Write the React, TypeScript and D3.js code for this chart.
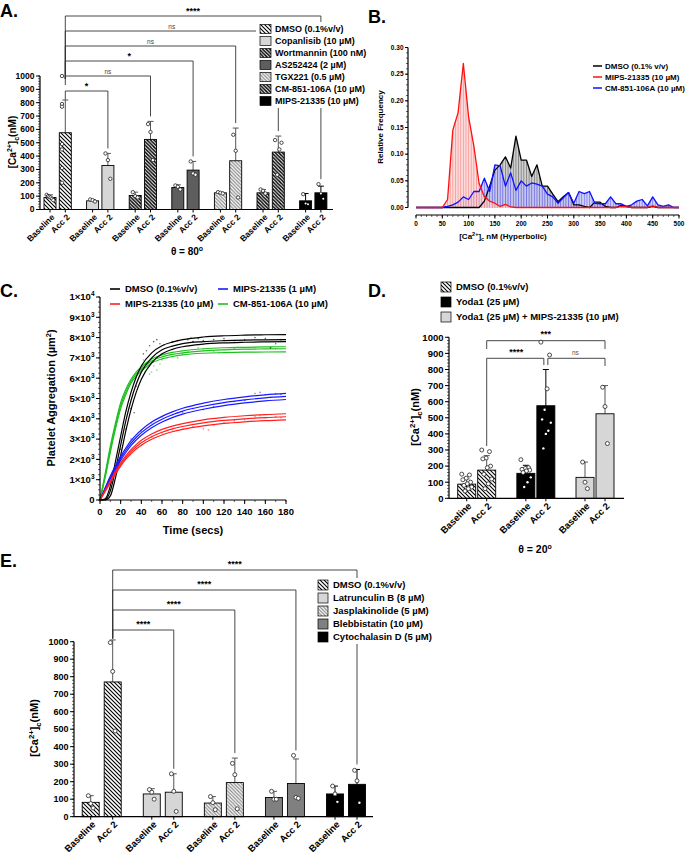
import React from 'react';
import * as d3 from 'd3';

const F = "'Liberation Sans', Arial, Helvetica, sans-serif";

// ---------------- Panel A data ----------------
const aGroups = ["DMSO (0.1%v/v)", "Copanlisib (10 µM)", "Wortmannin (100 nM)", "AS252424 (2 µM)", "TGX221 (0.5 µM)", "CM-851-106A (10 µM)", "MIPS-21335 (10 µM)"];
const aFills = ["hatch", "light", "hatchDense", "dark", "hatchGray", "hatchDense", "black"];
const aBaseMean = [90, 65, 105, 165, 125, 125, 65];
const aBaseErr = [110, 75, 130, 185, 130, 150, 120];
const aBasePts = [[110, 100, 95, 90, 80, 70], [75, 70, 60], [130, 100, 90], [180, 170, 150], [130, 125, 120], [150, 140, 120], [115, 45, 40]];
const aAccMean = [575, 330, 525, 295, 365, 430, 125];
const aAccErr = [820, 420, 660, 360, 610, 550, 175];
const aAccPts = [[1000, 790, 770, 490, 450, 310, 200], [420, 370, 230], [640, 580, 370], [360, 270, 260], [560, 440, 90], [520, 500, 450, 260], [190, 120, 80]];
const aSigLabels = ["*", "ns", "*", "ns", "ns", "****"];
const barTicks = [0, 100, 200, 300, 400, 500, 600, 700, 800, 900, 1000];
const conditions = ["Baseline", "Acc 2"];

// ---------------- Panel B data ----------------
const bBins = [0, 10, 20, 30, 40, 50, 60, 70, 80, 90, 100, 110, 120, 130, 140, 150, 160, 170, 180, 190, 200, 210, 220, 230, 240, 250, 260, 270, 280, 290, 300, 310, 320, 330, 340, 350, 360, 370, 380, 390, 400, 410, 420, 430, 440, 450, 460, 470, 480, 490, 500];
const bDMSO = [0, 0, 0, 0, 0, 0, 0, 0, 0, 0, 0, 0, 0, 0.012, 0.04, 0.07, 0.08, 0.095, 0.074, 0.134, 0.089, 0.089, 0.058, 0.08, 0.04, 0.04, 0.025, 0.011, 0.02, 0.028, 0.005, 0.005, 0.002, 0, 0.01, 0.01, 0.002, 0, 0, 0.004, 0.002, 0, 0, 0, 0, 0.002, 0, 0, 0, 0, 0];
const bMIPS = [0, 0, 0, 0, 0, 0, 0.015, 0.145, 0.178, 0.27, 0.17, 0.115, 0.045, 0.02, 0.012, 0.008, 0.002, 0.006, 0.001, 0, 0, 0, 0, 0, 0, 0, 0, 0, 0, 0, 0, 0, 0, 0, 0, 0, 0, 0, 0, 0.002, 0.001, 0, 0, 0, 0, 0.003, 0, 0, 0, 0, 0];
const bCM = [0, 0, 0, 0, 0, 0, 0.002, 0.005, 0.01, 0.02, 0.015, 0.03, 0.03, 0.055, 0.03, 0.08, 0.078, 0.04, 0.065, 0.032, 0.05, 0.04, 0.046, 0.044, 0.04, 0.025, 0.02, 0.008, 0.018, 0.028, 0.008, 0.03, 0.026, 0.03, 0.008, 0.007, 0.007, 0.02, 0.007, 0.007, 0.002, 0.005, 0.012, 0.015, 0.003, 0.02, 0.005, 0.002, 0.005, 0, 0];
const bLegend = ["DMSO (0.1% v/v)", "MIPS-21335 (10 µM)", "CM-851-106A (10 µM)"];
const bYTicks = [0, 0.05, 0.1, 0.15, 0.2, 0.25, 0.3];
const bXTicks = [0, 50, 100, 150, 200, 250, 300, 350, 400, 450, 500];

// ---------------- Panel C data ----------------
const cTimes = [0, 5, 10, 15, 20, 25, 30, 35, 40, 50, 60, 70, 80, 100, 120, 140, 160, 180];
const cBlack = [
  [0, 60, 700, 1900, 3150, 4350, 5300, 6050, 6600, 7250, 7600, 7780, 7900, 8030, 8090, 8120, 8140, 8150],
  [0, 20, 450, 1500, 2700, 3900, 4900, 5700, 6300, 7000, 7400, 7580, 7700, 7800, 7850, 7880, 7890, 7900],
  [0, 0, 200, 1100, 2200, 3400, 4450, 5300, 5950, 6750, 7200, 7420, 7550, 7680, 7740, 7770, 7790, 7800],
];
const cGreen = [
  [0, 1300, 2650, 3800, 4800, 5450, 5950, 6300, 6550, 6950, 7150, 7270, 7350, 7450, 7500, 7520, 7540, 7550],
  [0, 1200, 2500, 3650, 4650, 5320, 5850, 6200, 6450, 6850, 7050, 7170, 7250, 7350, 7400, 7430, 7440, 7450],
  [0, 1100, 2350, 3500, 4500, 5200, 5750, 6100, 6350, 6750, 6950, 7070, 7150, 7230, 7260, 7280, 7290, 7300],
];
const cBlue = [
  [0, 600, 1180, 1700, 2150, 2560, 2920, 3210, 3450, 3840, 4120, 4340, 4520, 4770, 4950, 5080, 5180, 5250],
  [0, 550, 1100, 1600, 2050, 2450, 2800, 3080, 3320, 3700, 3980, 4200, 4380, 4620, 4800, 4930, 5030, 5100],
  [0, 500, 1020, 1500, 1950, 2340, 2680, 2950, 3190, 3560, 3840, 4060, 4230, 4470, 4650, 4780, 4880, 4950],
];
const cRed = [
  [0, 480, 950, 1420, 1830, 2190, 2480, 2730, 2940, 3250, 3480, 3640, 3760, 3950, 4070, 4150, 4210, 4250],
  [0, 450, 900, 1350, 1750, 2100, 2380, 2620, 2820, 3120, 3340, 3500, 3620, 3800, 3920, 4000, 4060, 4100],
  [0, 420, 850, 1280, 1670, 2010, 2280, 2510, 2700, 2990, 3200, 3360, 3480, 3650, 3770, 3850, 3910, 3950],
];
const cBlackDots = [[10, 500], [15, 1500], [20, 2500], [25, 3500], [30, 4500], [33, 4300], [35, 5600], [42, 7200], [45, 7350], [48, 7600], [52, 7800], [55, 7900], [58, 7700], [62, 7650], [70, 7800], [75, 7850], [85, 7900], [90, 7800], [95, 7950], [100, 7850], [110, 7900], [120, 7950], [130, 7850], [140, 7900], [150, 8000], [160, 7950], [165, 7500], [170, 7700], [175, 7900]];
const cGreenDots = [[10, 2300], [20, 4700], [30, 5800], [40, 6400], [42, 6900], [44, 6700], [46, 6500], [48, 6200], [50, 6300], [52, 6600], [55, 6400], [58, 6700], [60, 6900], [65, 7000], [70, 7050], [75, 7000], [80, 7200], [85, 7300], [88, 8000], [90, 7800], [95, 7500], [100, 7400], [110, 7300], [115, 7250], [120, 7400], [130, 7450], [150, 7500], [165, 7500], [170, 7450]];
const cBlueDots = [[20, 2200], [30, 3000], [40, 3400], [50, 3800], [60, 4100], [70, 4200], [75, 4300], [80, 4300], [90, 4500], [100, 4450], [110, 4600], [120, 4800], [130, 4850], [140, 4900], [150, 5250], [155, 5300], [160, 5200], [165, 5050], [170, 5250], [175, 5200]];
const cRedDots = [[30, 2400], [40, 2700], [50, 3100], [60, 3300], [70, 3450], [80, 3500], [90, 3600], [100, 3500], [105, 3450], [110, 3700], [120, 3800], [130, 3900], [140, 3950], [150, 4100], [155, 4150], [160, 4050], [170, 4100], [175, 4050]];
const cYTicks = [0, 1000, 2000, 3000, 4000, 5000, 6000, 7000, 8000, 9000, 10000];
const cXTicks = [0, 20, 40, 60, 80, 100, 120, 140, 160, 180];

// ---------------- Panel D data ----------------
const dGroups = ["DMSO (0.1%v/v)", "Yoda1 (25 µM)", "Yoda1 (25 µM) + MIPS-21335 (10 µM)"];
const dFills = ["hatch", "black", "light"];
const dBaseMean = [88, 155, 130];
const dBaseErr = [120, 205, 225];
const dBasePts = [[150, 145, 125, 115, 100, 90, 80, 70, 60, 45], [240, 190, 185, 180, 175, 170, 160, 130, 100, 70], [225, 100, 60]];
const dAccMean = [175, 575, 525];
const dAccErr = [265, 800, 700];
const dAccPts = [[300, 290, 250, 245, 200, 190, 150, 120, 90, 60], [970, 890, 680, 550, 490, 470, 420, 400, 310], [690, 570, 340]];

// ---------------- Panel E data ----------------
const eGroups = ["DMSO (0.1%v/v)", "Latrunculin B (8 µM)", "Jasplakinolide (5 µM)", "Blebbistatin (10 µM)", "Cytochalasin D (5 µM)"];
const eFills = ["hatch", "light", "hatchGray", "mid", "black"];
const eBaseMean = [82, 130, 78, 110, 130];
const eBaseErr = [120, 160, 115, 145, 175];
const eBasePts = [[120, 75, 50], [155, 140, 100], [115, 80, 40], [145, 100, 100], [175, 130, 85]];
const eAccMean = [770, 140, 195, 190, 185];
const eAccErr = [1010, 245, 335, 330, 270];
const eAccPts = [[995, 830, 490], [245, 145, 30], [305, 240, 45], [350, 110, 105], [265, 205, 80]];
const eSigLabels = ["****", "****", "****", "****"];

// ---------------- helpers ----------------
const fillOf = (k: string) => ({
  hatch: 'url(#hatchB)', hatchDense: 'url(#hatchBD)', hatchGray: 'url(#hatchG)',
  light: '#d6d6d6', mid: '#808080', dark: '#5e5e5e', black: '#000',
} as any)[k];

function CaTitle({ x, y, fs }: any) {
  return (
    <text transform={`translate(${x},${y}) rotate(-90)`} textAnchor="middle" fontSize={fs} fontWeight="bold">
      [Ca<tspan dy={-fs * 0.4} fontSize={fs * 0.7}>2+</tspan><tspan dy={fs * 0.4}>]</tspan>
      <tspan dy={fs * 0.3} fontSize={fs * 0.7}>c</tspan><tspan dy={-fs * 0.3}>(nM)</tspan>
    </text>
  );
}

function YAxis({ scale, x, ticks, minor, fs, fmt, len = 4 }: any) {
  const [d0, d1] = scale.domain();
  const minors = minor ? d3.range(d0, d1 + 1e-9, minor) : [];
  return (
    <g>
      <line x1={x} x2={x} y1={scale(d0)} y2={scale(d1)} stroke="#000" strokeWidth={1.2} />
      {minors.map((v: number, i: number) => <line key={'m' + i} x1={x - 2} x2={x} y1={scale(v)} y2={scale(v)} stroke="#000" strokeWidth={0.6} />)}
      {ticks.map((v: number, i: number) => (
        <g key={i}>
          <line x1={x - len} x2={x} y1={scale(v)} y2={scale(v)} stroke="#000" strokeWidth={1} />
          <text x={x - len - 1.5} y={scale(v)} dy="0.35em" textAnchor="end" fontSize={fs} fontWeight="bold">{fmt ? fmt(v) : v}</text>
        </g>
      ))}
    </g>
  );
}

function BarSet({ y, xBase, accOff, barW, baseMean, baseErr, basePts, accMean, accErr, accPts, fills, axisX0, axisX1, fs, pr }: any) {
  const y0 = y(0);
  const items: any[] = [];
  baseMean.forEach((_: any, i: number) => {
    [0, 1].forEach((c) => {
      const cx = xBase(i) + (c ? accOff : 0);
      const m = c ? accMean[i] : baseMean[i];
      const e = c ? accErr[i] : baseErr[i];
      const pts = c ? accPts[i] : basePts[i];
      const f = fills[i];
      const dark = f === 'black';
      items.push(
        <g key={i + '-' + c}>
          <line x1={cx} x2={cx} y1={y(m)} y2={y(e)} stroke={dark ? '#000' : '#555'} strokeWidth={1} />
          <line x1={cx - 3} x2={cx + 3} y1={y(e)} y2={y(e)} stroke={dark ? '#000' : '#555'} strokeWidth={1} />
          <rect x={cx - barW / 2} y={y(m)} width={barW} height={y0 - y(m)} fill={fillOf(f)} stroke="#000" strokeWidth={0.9} />
          {pts.map((v: number, j: number) => {
            const n = pts.length;
            const w = Math.min(barW * 0.55, n * 1.6);
            const dx = n === 1 ? 0 : -w / 2 + (w * ((j * 7) % n)) / (n - 1);
            const inside = dark && v < m;
            return inside
              ? <circle key={j} cx={cx + dx} cy={y(v)} r={pr * 0.6} fill="#fff" />
              : <circle key={j} cx={cx + dx} cy={y(v)} r={pr} fill="#fff" stroke="#222" strokeWidth={0.8} />;
          })}
          <line x1={cx} x2={cx} y1={y0} y2={y0 + 3} stroke="#000" strokeWidth={1} />
          <text transform={`translate(${cx + 3},${y0 + 6}) rotate(-45)`} textAnchor="end" dy="0.35em" fontSize={fs} fontWeight="bold">{conditions[c]}</text>
        </g>
      );
    });
  });
  return (
    <g>
      {items}
      <line x1={axisX0} x2={axisX1} y1={y0} y2={y0} stroke="#000" strokeWidth={1.2} />
    </g>
  );
}

function LegendBox({ x, y, f, w = 10, h = 9 }: any) {
  return <rect x={x} y={y - h / 2} width={w} height={h} fill={fillOf(f)} stroke="#000" strokeWidth={0.7} />;
}

// ---------------- Panels ----------------
function PanelA() {
  const y = d3.scaleLinear().domain([0, 1000]).range([209.5, 76]);
  const xg = d3.scaleLinear().domain([0, 6]).range([50, 305.6]);
  const off = 15.3;
  const dmsoTop = y(d3.max(aAccPts[0]) as number);
  return (
    <g>
      <text x={0} y={17} fontSize={18} fontWeight="bold">A.</text>
      {aSigLabels.map((lab, k) => {
        const yb = 91 - 15 * k;
        const x1 = xg(0) + off, x2 = xg(k + 1) + off;
        const top = Math.max(aAccErr[k + 1], d3.max(aAccPts[k + 1]) as number);
        const yEnd = y(top) - 5;
        const leftEnd = Math.max(yb + 9, dmsoTop + 3);
        return (
          <g key={k}>
            <path d={`M${x1},${leftEnd}V${yb}H${x2}V${yEnd}`} fill="none" stroke="#333" strokeWidth={0.9} />
            <text x={(x1 + x2) / 2} y={yb - 2.5} textAnchor="middle" fontSize={lab === 'ns' ? 6.5 : 9} fontWeight={lab === 'ns' ? 'normal' : 'bold'} fill={lab === 'ns' ? '#444' : '#000'}>{lab}</text>
          </g>
        );
      })}
      <YAxis scale={y} x={40} ticks={barTicks} minor={20} fs={8.5} />
      <BarSet y={y} xBase={xg} accOff={off} barW={12} baseMean={aBaseMean} baseErr={aBaseErr} basePts={aBasePts}
        accMean={aAccMean} accErr={aAccErr} accPts={aAccPts} fills={aFills} axisX0={40} axisX1={333} fs={8.5} pr={1.7} />
      <CaTitle x={16} y={142} fs={10} />
      <text x={187} y={255} textAnchor="middle" fontSize={10} fontWeight="bold">θ = 80<tspan dy={-4} fontSize={7}>o</tspan></text>
      <rect x={256} y={22} width={100} height={86} fill="#fff" />
      {aGroups.map((g, i) => (
        <g key={i}>
          <LegendBox x={260} y={29 + 12 * i} f={aFills[i]} w={11} h={9} />
          <text x={275} y={29 + 12 * i} dy="0.35em" fontSize={9} fontWeight="bold">{g}</text>
        </g>
      ))}
    </g>
  );
}

function PanelB() {
  const x = d3.scaleLinear().domain([0, 500]).range([416, 679]);
  const y = d3.scaleLinear().domain([0, 0.3]).range([207.5, 47.5]);
  const area = (vals: number[]) => d3.area<number>().x((_, i) => x(bBins[i])).y0(y(0)).y1((v) => y(v))(vals) as string;
  const line = (vals: number[]) => d3.line<number>().x((_, i) => x(bBins[i])).y((v) => y(v))(vals) as string;
  const series = [
    { v: bDMSO, c: '#000', p: 'url(#vsK)' },
    { v: bCM, c: '#1010ff', p: 'url(#vsB)' },
    { v: bMIPS, c: '#ff1010', p: 'url(#vsR)' },
  ];
  return (
    <g>
      <text x={368} y={23} fontSize={18} fontWeight="bold">B.</text>
      {series.map((s, i) => <path key={'a' + i} d={area(s.v)} fill={s.p} />)}
      {series.map((s, i) => <path key={'l' + i} d={line(s.v)} fill="none" stroke={s.c} strokeWidth={1.3} strokeLinejoin="round" />)}
      <YAxis scale={y} x={408} ticks={bYTicks} minor={0.01} fs={6.5} fmt={d3.format('.2f')} len={3} />
      <line x1={x(0)} x2={x(500)} y1={215} y2={215} stroke="#000" strokeWidth={1.2} />
      {d3.range(0, 501, 10).map((v) => <line key={v} x1={x(v)} x2={x(v)} y1={215} y2={217} stroke="#000" strokeWidth={0.6} />)}
      {bXTicks.map((v) => (
        <g key={v}>
          <line x1={x(v)} x2={x(v)} y1={215} y2={218.5} stroke="#000" strokeWidth={1} />
          <text x={x(v)} y={226} textAnchor="middle" fontSize={6.5} fontWeight="bold">{v}</text>
        </g>
      ))}
      <text x={503} y={239} textAnchor="middle" fontSize={8} fontWeight="bold">
        [Ca<tspan dy={-3} fontSize={5.5}>2+</tspan><tspan dy={3}>]</tspan><tspan dy={2} fontSize={5.5}>c</tspan><tspan dy={-2}> nM (Hyperbolic)</tspan>
      </text>
      <text transform="translate(383,127) rotate(-90)" textAnchor="middle" fontSize={8} fontWeight="bold">Relative Frequency</text>
      {bLegend.map((t, i) => (
        <g key={i}>
          <line x1={593} x2={602} y1={66 + 11 * i} y2={66 + 11 * i} stroke={['#000', '#ff1010', '#1010ff'][i]} strokeWidth={1.5} />
          <text x={605} y={66 + 11 * i} dy="0.35em" fontSize={8} fontWeight="bold">{t}</text>
        </g>
      ))}
    </g>
  );
}

function PanelC() {
  const x = d3.scaleLinear().domain([0, 180]).range([100, 286]);
  const y = d3.scaleLinear().domain([0, 10000]).range([500, 297]);
  const ln = d3.line<number>().x((_, i) => x(cTimes[i])).y((v) => y(v)).curve(d3.curveMonotoneX);
  const groups = [
    { curves: cGreen, dots: cGreenDots, c: '#1fbf1f' },
    { curves: cBlack, dots: cBlackDots, c: '#000' },
    { curves: cBlue, dots: cBlueDots, c: '#1a1aff' },
    { curves: cRed, dots: cRedDots, c: '#ff2020' },
  ];
  const fmt = (v: number) => {
    if (v === 0) return '0';
    if (v === 10000) return <>1×10<tspan dy={-4} fontSize={6.5}>4</tspan></>;
    return <>{v / 1000}×10<tspan dy={-4} fontSize={6.5}>3</tspan></>;
  };
  const legend = [
    { t: 'DMSO (0.1%v/v)', c: '#000', lx: 110, ly: 289 },
    { t: 'MIPS-21335 (1 µM)', c: '#1a1aff', lx: 218, ly: 289 },
    { t: 'MIPS-21335 (10 µM)', c: '#ff2020', lx: 110, ly: 304 },
    { t: 'CM-851-106A  (10 µM)', c: '#1fbf1f', lx: 218, ly: 304 },
  ];
  return (
    <g>
      <text x={0} y={297} fontSize={18} fontWeight="bold">C.</text>
      {groups.map((g, gi) => (
        <g key={gi}>
          {g.dots.map((d, j) => <circle key={j} cx={x(d[0])} cy={y(d[1])} r={0.8} fill={g.c} opacity={0.6} />)}
          {g.curves.map((cv, j) => <path key={j} d={ln(cv) as string} fill="none" stroke={g.c} strokeWidth={1.2} />)}
        </g>
      ))}
      <YAxis scale={y} x={100} ticks={cYTicks} minor={250} fs={9.5} fmt={fmt} />
      <line x1={100} x2={286} y1={500} y2={500} stroke="#000" strokeWidth={1.2} />
      {d3.range(0, 181, 10).map((v) => <line key={v} x1={x(v)} x2={x(v)} y1={500} y2={502} stroke="#000" strokeWidth={0.6} />)}
      {cXTicks.map((v) => (
        <g key={v}>
          <line x1={x(v)} x2={x(v)} y1={500} y2={504} stroke="#000" strokeWidth={1} />
          <text x={x(v)} y={515} textAnchor="middle" fontSize={9.5} fontWeight="bold">{v}</text>
        </g>
      ))}
      <text x={193} y={534} textAnchor="middle" fontSize={11} fontWeight="bold">Time (secs)</text>
      <text transform="translate(55,398) rotate(-90)" textAnchor="middle" fontSize={11} fontWeight="bold">
        Platelet Aggregation (µm<tspan dy={-4} fontSize={7.5}>2</tspan><tspan dy={4}>)</tspan>
      </text>
      {legend.map((l, i) => (
        <g key={i}>
          <line x1={l.lx} x2={l.lx + 10} y1={l.ly} y2={l.ly} stroke={l.c} strokeWidth={1.6} />
          <text x={l.lx + 15} y={l.ly} dy="0.35em" fontSize={9.5} fontWeight="bold">{l.t}</text>
        </g>
      ))}
    </g>
  );
}

function PanelD() {
  const y = d3.scaleLinear().domain([0, 1000]).range([498.3, 337.3]);
  const xg = d3.scaleLinear().domain([0, 2]).range([466.7, 585]);
  const off = 20;
  const xa = (i: number) => xg(i) + off;
  return (
    <g>
      <text x={368} y={297} fontSize={18} fontWeight="bold">D.</text>
      {dGroups.map((g, i) => (
        <g key={i}>
          <LegendBox x={441} y={287 + 15 * i} f={dFills[i]} w={10} h={10} />
          <text x={456} y={287 + 15 * i} dy="0.35em" fontSize={9.5} fontWeight="bold">{g}</text>
        </g>
      ))}
      <path d={`M${xa(0)},349V340.7H${xa(2)}V349`} fill="none" stroke="#333" strokeWidth={0.9} />
      <text x={(xa(0) + xa(2)) / 2} y={337} textAnchor="middle" fontSize={9} fontWeight="bold">***</text>
      <path d={`M${xa(0)},${y(300) - 4}V358.3H${xa(1) - 2}V365`} fill="none" stroke="#333" strokeWidth={0.9} />
      <text x={(xa(0) + xa(1)) / 2} y={355} textAnchor="middle" fontSize={9} fontWeight="bold">****</text>
      <path d={`M${xa(1) + 2},365V358.3H${xa(2)}V366`} fill="none" stroke="#333" strokeWidth={0.9} />
      <text x={(xa(1) + xa(2)) / 2} y={355} textAnchor="middle" fontSize={6.5} fill="#555">ns</text>
      <YAxis scale={y} x={449} ticks={barTicks} minor={20} fs={9.5} />
      <BarSet y={y} xBase={xg} accOff={off} barW={18} baseMean={dBaseMean} baseErr={dBaseErr} basePts={dBasePts}
        accMean={dAccMean} accErr={dAccErr} accPts={dAccPts} fills={dFills} axisX0={449} axisX1={624} fs={9.5} pr={2} />
      <CaTitle x={419} y={417} fs={11} />
      <text x={535} y={553} textAnchor="middle" fontSize={10.5} fontWeight="bold">θ = 20<tspan dy={-4} fontSize={7}>o</tspan></text>
    </g>
  );
}

function PanelE() {
  const y = d3.scaleLinear().domain([0, 1000]).range([816.7, 641.7]);
  const xg = d3.scaleLinear().domain([0, 4]).range([90.7, 335]);
  const off = 22;
  const xa = (i: number) => xg(i) + off;
  const dmsoTop = y(d3.max(eAccPts[0]) as number);
  return (
    <g>
      <text x={0} y={567} fontSize={18} fontWeight="bold">E.</text>
      {eSigLabels.map((lab, k) => {
        const yb = 630 - 20 * k;
        const x1 = xa(0), x2 = xa(k + 1);
        const top = Math.max(eAccErr[k + 1], d3.max(eAccPts[k + 1]) as number);
        const yEnd = y(top) - 5;
        const leftEnd = Math.max(yb + 8, dmsoTop - 4);
        return (
          <g key={k}>
            <path d={`M${x1},${leftEnd}V${yb}H${x2}V${yEnd}`} fill="none" stroke="#333" strokeWidth={0.9} />
            <text x={(x1 + x2) / 2} y={yb - 3} textAnchor="middle" fontSize={9} fontWeight="bold">{lab}</text>
          </g>
        );
      })}
      <rect x={315} y={578} width={160} height={66} fill="#fff" />
      {eGroups.map((g, i) => (
        <g key={i}>
          <LegendBox x={318} y={585 + 13 * i} f={eFills[i]} w={10} h={10} />
          <text x={333} y={585 + 13 * i} dy="0.35em" fontSize={9.5} fontWeight="bold">{g}</text>
        </g>
      ))}
      <YAxis scale={y} x={74} ticks={barTicks} minor={20} fs={9} />
      <BarSet y={y} xBase={xg} accOff={off} barW={17} baseMean={eBaseMean} baseErr={eBaseErr} basePts={eBasePts}
        accMean={eAccMean} accErr={eAccErr} accPts={eAccPts} fills={eFills} axisX0={74} axisX1={373} fs={9.5} pr={2} />
      <CaTitle x={38} y={728} fs={11} />
    </g>
  );
}

export default function App() {
  return (
    <svg width={685} height={860} viewBox="0 0 685 860" style={{ position: 'absolute', left: 0, top: 0, background: '#fff' }} fontFamily={F}>
      <defs>
        <pattern id="hatchB" patternUnits="userSpaceOnUse" width={4} height={4}>
          <rect width={4} height={4} fill="#fff" />
          <path d="M0,0L4,4M-1,3L1,5M3,-1L5,1" stroke="#000" strokeWidth={1.1} />
        </pattern>
        <pattern id="hatchBD" patternUnits="userSpaceOnUse" width={3.5} height={3.5}>
          <rect width={3.5} height={3.5} fill="#fff" />
          <path d="M0,0L3.5,3.5M-1,2.5L1,4.5M2.5,-1L4.5,1" stroke="#000" strokeWidth={1.4} />
        </pattern>
        <pattern id="hatchG" patternUnits="userSpaceOnUse" width={3.5} height={3.5}>
          <rect width={3.5} height={3.5} fill="#fff" />
          <path d="M0,0L3.5,3.5M-1,2.5L1,4.5M2.5,-1L4.5,1" stroke="#8a8a8a" strokeWidth={1.2} />
        </pattern>
        <pattern id="vsK" patternUnits="userSpaceOnUse" width={2.63} height={10}>
          <rect width={2.63} height={10} fill="#c9c9c9" fillOpacity={0.85} />
          <line x1={0.5} x2={0.5} y1={0} y2={10} stroke="#333" strokeWidth={0.5} />
        </pattern>
        <pattern id="vsB" patternUnits="userSpaceOnUse" width={2.63} height={10}>
          <rect width={2.63} height={10} fill="#c4c4f2" fillOpacity={0.75} />
          <line x1={0.5} x2={0.5} y1={0} y2={10} stroke="#3030ff" strokeWidth={0.5} />
        </pattern>
        <pattern id="vsR" patternUnits="userSpaceOnUse" width={2.63} height={10}>
          <rect width={2.63} height={10} fill="#fcd0d0" fillOpacity={0.75} />
          <line x1={0.5} x2={0.5} y1={0} y2={10} stroke="#f06060" strokeWidth={0.5} />
        </pattern>
      </defs>
      <rect width={685} height={860} fill="#fff" />
      <PanelA />
      <PanelB />
      <PanelC />
      <PanelD />
      <PanelE />
    </svg>
  );
}
